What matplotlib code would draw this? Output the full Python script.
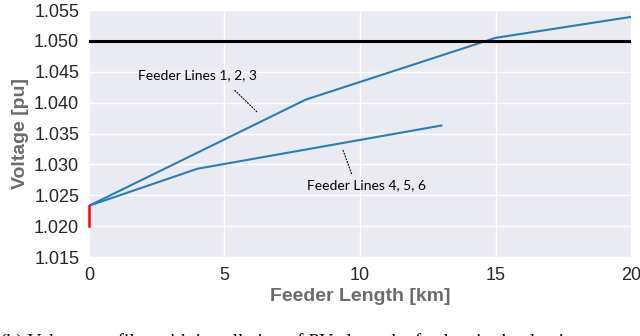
import matplotlib
matplotlib.use("Agg")
from matplotlib import pyplot as plt

# feeder lines 1, 2, 3 (upper profile)
km_a = [0, 8, 15, 20]
volt_a = [1.0233, 1.0405, 1.0505, 1.0539]

# feeder lines 4, 5, 6 (lower profile)
km_b = [0, 4, 13]
volt_b = [1.0233, 1.0293, 1.0363]

# substation step (red)
km_sub = [0, 0]
volt_sub = [1.0200, 1.0233]

v_limit = 1.050

x_ticks = [0, 5, 10, 15, 20]
y_ticks = [1.015, 1.020, 1.025, 1.030, 1.035, 1.040, 1.045, 1.050, 1.055]

fig = plt.figure(figsize=(6.4, 3.36), dpi=100)
ax = fig.add_axes([0.139, 0.235, 0.847, 0.735])
ax.set_facecolor("#eaeaf2")
for s in ax.spines.values():
    s.set_visible(False)
ax.grid(True, color="white", linewidth=1.0)
ax.set_axisbelow(True)

ax.plot(km_a, volt_a, color="#2b7bba", lw=1.5)
ax.plot(km_b, volt_b, color="#2b7bba", lw=1.5)
ax.plot(km_sub, volt_sub, color="red", lw=1.8, clip_on=False, zorder=5)
ax.axhline(v_limit, color="black", lw=2.2)

ax.set_xlim(0, 20)
ax.set_ylim(1.015, 1.055)
ax.set_xticks(x_ticks)
ax.set_yticks(y_ticks)
ax.set_xticklabels([str(t) for t in x_ticks])
ax.set_yticklabels([f"{t:.3f}" for t in y_ticks])
ax.tick_params(length=0, labelsize=13, labelcolor="#262626", pad=7)
for lab in ax.get_xticklabels() + ax.get_yticklabels():
    lab.set_family("Liberation Sans")

ax.set_xlabel("Feeder Length [km]", fontsize=14, fontweight="bold",
              color="#6b6b6b", family="Liberation Sans", labelpad=3)
ax.set_ylabel("Voltage [pu]", fontsize=14, fontweight="bold",
              color="#6b6b6b", family="Liberation Sans", labelpad=4)

# annotations with dotted leaders
ax.annotate("", xy=(6.27, 1.0382), xytext=(5.31, 1.0423),
            arrowprops=dict(arrowstyle="-", ls=":", color="black", lw=0.8))
ax.text(4.0, 1.0444, "Feeder Lines 1, 2, 3", fontsize=10, family="Lato",
        ha="center", va="center")
ax.annotate("", xy=(9.74, 1.0279), xytext=(9.34, 1.0327),
            arrowprops=dict(arrowstyle="-", ls=":", color="black", lw=0.8))
ax.text(10.25, 1.0267, "Feeder Lines 4, 5, 6", fontsize=10, family="Lato",
        ha="center", va="center")

# figure caption, cut off at the bottom edge
fig.text(0.0, -0.033, "(b) Voltage profiles with installation of PV along the feeders in the daytime",
         fontsize=14, family="Liberation Serif", va="baseline", ha="left")

fig.savefig("out.png", dpi=100)
